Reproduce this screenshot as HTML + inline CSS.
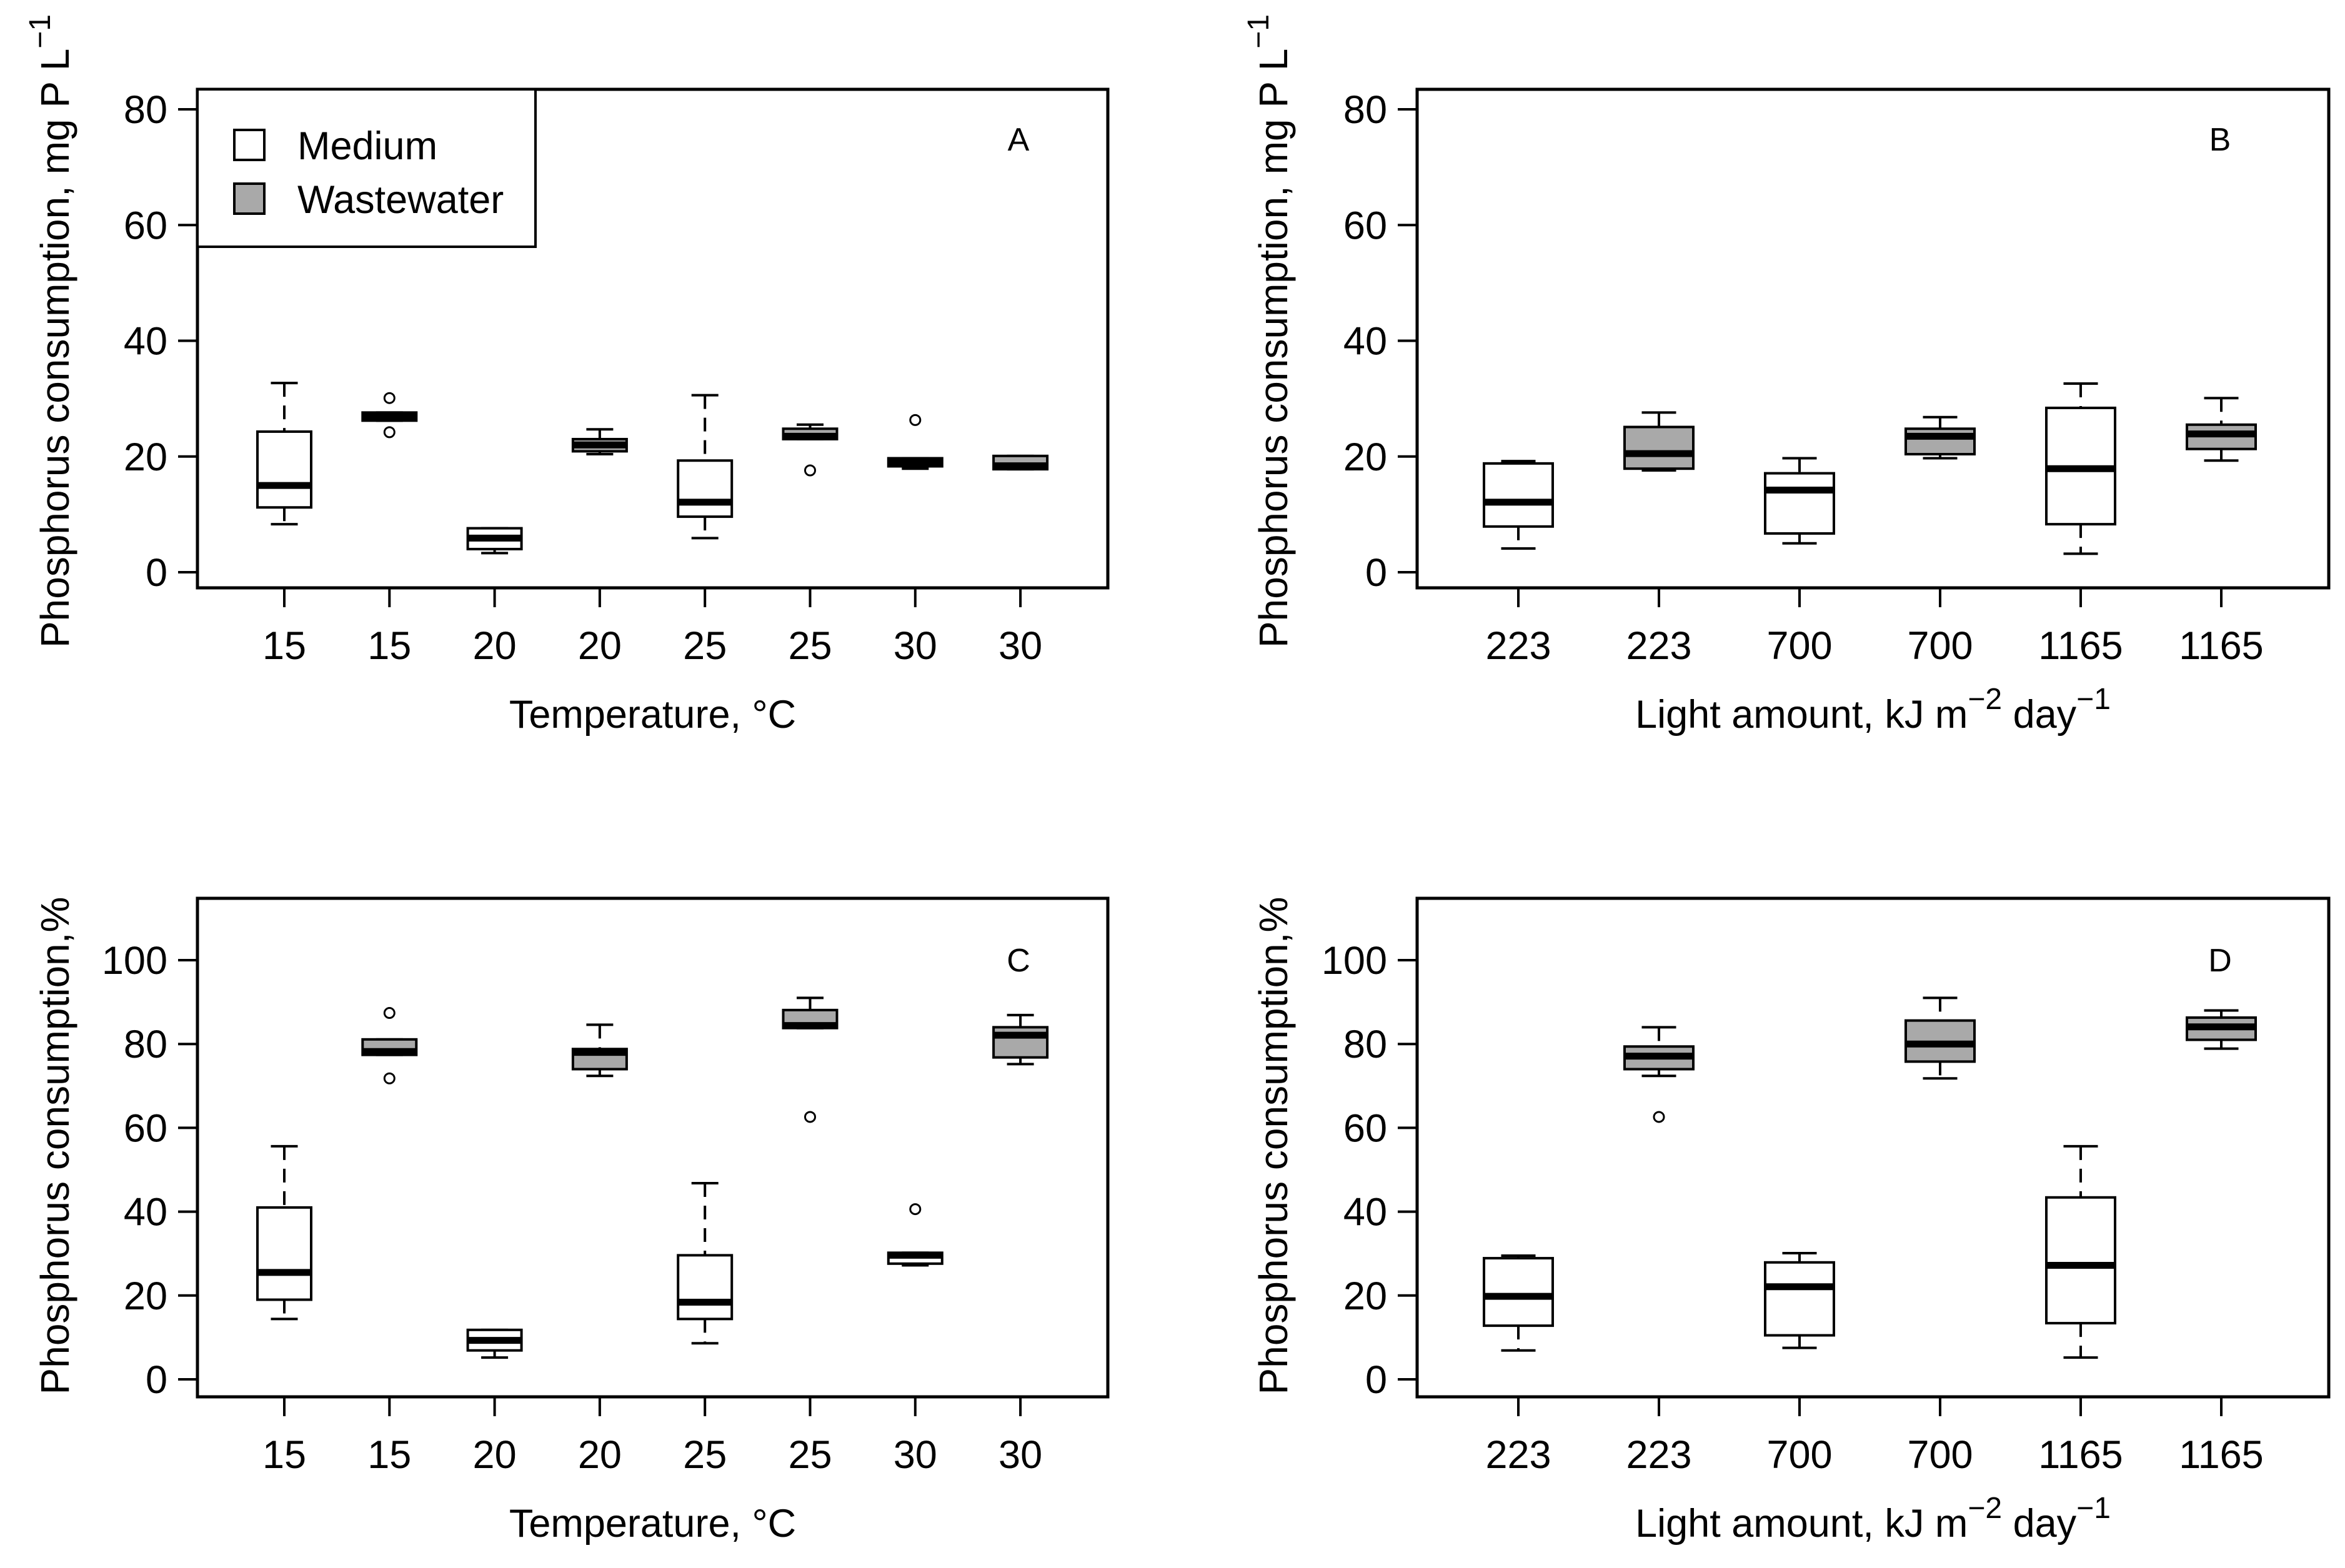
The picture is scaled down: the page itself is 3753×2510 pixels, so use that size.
<!DOCTYPE html>
<html><head><meta charset="utf-8"><style>
html,body{margin:0;padding:0;background:#fff}
svg{display:block}
text{font-family:"Liberation Sans",Arial,sans-serif;fill:#000}
</style></head><body>
<svg id="fig" xmlns="http://www.w3.org/2000/svg" width="3753" height="2510" viewBox="0 0 3753 2510"></svg>
<script>
// Panel A: Temperature, mg P/L
const catsA = ["15","15","20","20","25","25","30","30"];
const fillA = [0,1,0,1,0,1,0,1];
const loA  = [8.3,26.2,3.3,20.4,5.9,23.0,17.9,17.8];
const q1A  = [11.2,26.2,4.0,20.9,9.6,23.0,18.3,17.8];
const medA = [15.0,26.9,5.9,22.0,12.1,23.5,18.9,18.4];
const q3A  = [24.3,27.6,7.6,23.0,19.3,24.8,19.7,20.1];
const hiA  = [32.7,27.6,7.6,24.7,30.6,25.5,19.7,20.1];
const outA = [[],[30.1,24.2],[],[],[],[17.6],[26.3],[]];
// Panel B: Light, mg P/L
const catsB = ["223","223","700","700","1165","1165"];
const fillB = [0,1,0,1,0,1];
const loB  = [4.1,17.6,5.0,19.7,3.2,19.3];
const q1B  = [7.9,17.9,6.7,20.4,8.3,21.3];
const medB = [12.1,20.5,14.2,23.5,17.9,23.9];
const q3B  = [18.8,25.1,17.1,24.8,28.4,25.5];
const hiB  = [19.2,27.6,19.7,26.8,32.6,30.1];
const outB = [[],[],[],[],[],[]];
// Panel C: Temperature, %
const loC  = [14.4,77.4,5.2,72.4,8.6,83.8,27.2,75.2];
const q1C  = [19.0,77.4,6.9,74.0,14.4,83.8,27.6,76.8];
const medC = [25.5,78.2,9.3,78.0,18.4,84.4,29.6,82.1];
const q3C  = [41.0,81.1,11.8,78.8,29.6,88.1,30.2,84.0];
const hiC  = [55.6,81.1,11.8,84.6,46.8,91.0,30.2,86.9];
const outC = [[],[87.4,71.8],[],[],[],[62.6],[40.6],[]];
// Panel D: Light, %
const loD  = [6.9,72.4,7.5,71.8,5.2,78.9];
const q1D  = [12.8,74.0,10.5,75.8,13.4,81.0];
const medD = [19.8,77.1,22.1,80.0,27.2,84.1];
const q3D  = [28.9,79.4,27.9,85.6,43.4,86.3];
const hiD  = [29.5,84.0,30.1,91.0,55.6,88.0];
const outD = [[],[62.6],[],[],[],[]];
const ticksMg = [0,20,40,60,80];
const ticksPct = [0,20,40,60,80,100];

const NS="http://www.w3.org/2000/svg";
const svg=document.getElementById('fig');
function mk(tag,attrs,parent){const e=document.createElementNS(NS,tag);for(const k in attrs)e.setAttribute(k,attrs[k]);(parent||svg).appendChild(e);return e;}

function panel(p){
  const g=mk('g',{});
  
  
  const y=v=>p.y0-(v-0)*(p.y0-p.yRef)/p.vRef;
  const x=i=>p.x1+i*p.step;
  const fr=mk('rect',{x:p.L,y:p.T,width:p.R-p.L,height:p.B-p.T,fill:'none',stroke:'#000','stroke-width':5},g);
  
  
  p.ticks.forEach(t=>{
    const ln=mk('line',{x1:p.L,x2:p.L-31,y1:y(t),y2:y(t),stroke:'#000','stroke-width':4},g);
    
    
    const tx=mk('text',{x:p.L-48,y:y(t)+22,'font-size':63,'text-anchor':'end'},g);
    
    
    tx.textContent=t;
  });
  p.cats.forEach((c,i)=>{
    const cx=x(i);
    const ln=mk('line',{x1:cx,x2:cx,y1:p.B,y2:p.B+31,stroke:'#000','stroke-width':4},g);
    
    
    const tx=mk('text',{x:cx,y:p.B+114,'font-size':63,'text-anchor':'middle'},g);
    
    
    tx.textContent=c;
    const bg=mk('g',{},g);
    
    
    const hw=p.hw, cw=hw/2;
    mk('line',{x1:cx,x2:cx,y1:y(p.hi[i]),y2:y(p.q3[i]),stroke:'#000','stroke-width':4,'stroke-dasharray':'22,14'},bg);
    mk('line',{x1:cx,x2:cx,y1:y(p.q1[i]),y2:y(p.lo[i]),stroke:'#000','stroke-width':4,'stroke-dasharray':'22,14'},bg);
    mk('line',{x1:cx-cw,x2:cx+cw,y1:y(p.hi[i]),y2:y(p.hi[i]),stroke:'#000','stroke-width':4},bg);
    mk('line',{x1:cx-cw,x2:cx+cw,y1:y(p.lo[i]),y2:y(p.lo[i]),stroke:'#000','stroke-width':4},bg);
    mk('rect',{x:cx-hw,y:y(p.q3[i]),width:2*hw,height:Math.max(1,y(p.q1[i])-y(p.q3[i])),fill:p.fill[i]?'#a9a9a9':'#fff',stroke:'#000','stroke-width':4},bg);
    mk('line',{x1:cx-hw,x2:cx+hw,y1:y(p.med[i]),y2:y(p.med[i]),stroke:'#000','stroke-width':11},bg);
    p.out[i].forEach(o=>{
      const c2=mk('circle',{cx:cx,cy:y(o),r:8,fill:'none',stroke:'#000','stroke-width':3},bg);
      
      
    });
  });
  const lt=mk('text',{x:p.lx,y:p.ly,'font-size':52,'text-anchor':'middle'},g);
  
  
  lt.textContent=p.letter;
  const xt=mk('text',{x:(p.L+p.R)/2,y:p.B+224,'font-size':63,'text-anchor':'middle'},g);
  
  
  xt.innerHTML=p.xtitle;
  const yt=mk('text',{x:0,y:0,'font-size':64,'text-anchor':'middle',transform:'translate('+p.ytx+','+p.yty+') rotate(-90)'},g);
  
  
  yt.innerHTML=p.ytitle;
}
const yMg='Phosphorus consumption, mg P L<tspan dy="-30" font-size="48">\u22121</tspan>';
const yPct='Phosphorus consumption,%';
const xT='Temperature, \u00B0C';
const xL='Light amount, kJ m<tspan dy="-30" font-size="48">\u22122</tspan><tspan dy="30"> day</tspan><tspan dy="-30" font-size="48">\u22121</tspan>';
const topA={T:143,B:941,y0:916,yRef:175,vRef:80};
const botA={T:1438,B:2236,y0:2208,yRef:1537,vRef:100};
panel(Object.assign({letter:'A',L:316,R:1773,x1:455,step:168.3,hw:43,cats:catsA,fill:fillA,lo:loA,q1:q1A,med:medA,q3:q3A,hi:hiA,out:outA,ticks:ticksMg,lx:1630,ly:241,xtitle:xT,ytitle:yMg,ytx:110,yty:530},topA));
panel(Object.assign({letter:'B',L:2268,R:3727,x1:2430,step:225,hw:55,cats:catsB,fill:fillB,lo:loB,q1:q1B,med:medB,q3:q3B,hi:hiB,out:outB,ticks:ticksMg,lx:3553,ly:241,xtitle:xL,ytitle:yMg,ytx:2060,yty:530},topA));
panel(Object.assign({letter:'C',L:316,R:1773,x1:455,step:168.3,hw:43,cats:catsA,fill:fillA,lo:loC,q1:q1C,med:medC,q3:q3C,hi:hiC,out:outC,ticks:ticksPct,lx:1630,ly:1555,xtitle:xT,ytitle:yPct,ytx:110,yty:1834},botA));
panel(Object.assign({letter:'D',L:2268,R:3727,x1:2430,step:225,hw:55,cats:catsB,fill:fillB,lo:loD,q1:q1D,med:medD,q3:q3D,hi:hiD,out:outD,ticks:ticksPct,lx:3553,ly:1555,xtitle:xL,ytitle:yPct,ytx:2060,yty:1834},botA));
const lg=mk('g',{});


mk('rect',{x:316,y:143,width:541,height:252,fill:'#fff',stroke:'#000','stroke-width':4},lg);
const e1=mk('rect',{x:375,y:208,width:48,height:48,fill:'#fff',stroke:'#000','stroke-width':4},lg);


const e2=mk('rect',{x:375,y:294,width:48,height:48,fill:'#a9a9a9',stroke:'#000','stroke-width':4},lg);


const t1=mk('text',{x:476,y:255,'font-size':63},lg);


t1.textContent='Medium';
const t2=mk('text',{x:476,y:341,'font-size':63},lg);


t2.textContent='Wastewater';
</script>
</body></html>
